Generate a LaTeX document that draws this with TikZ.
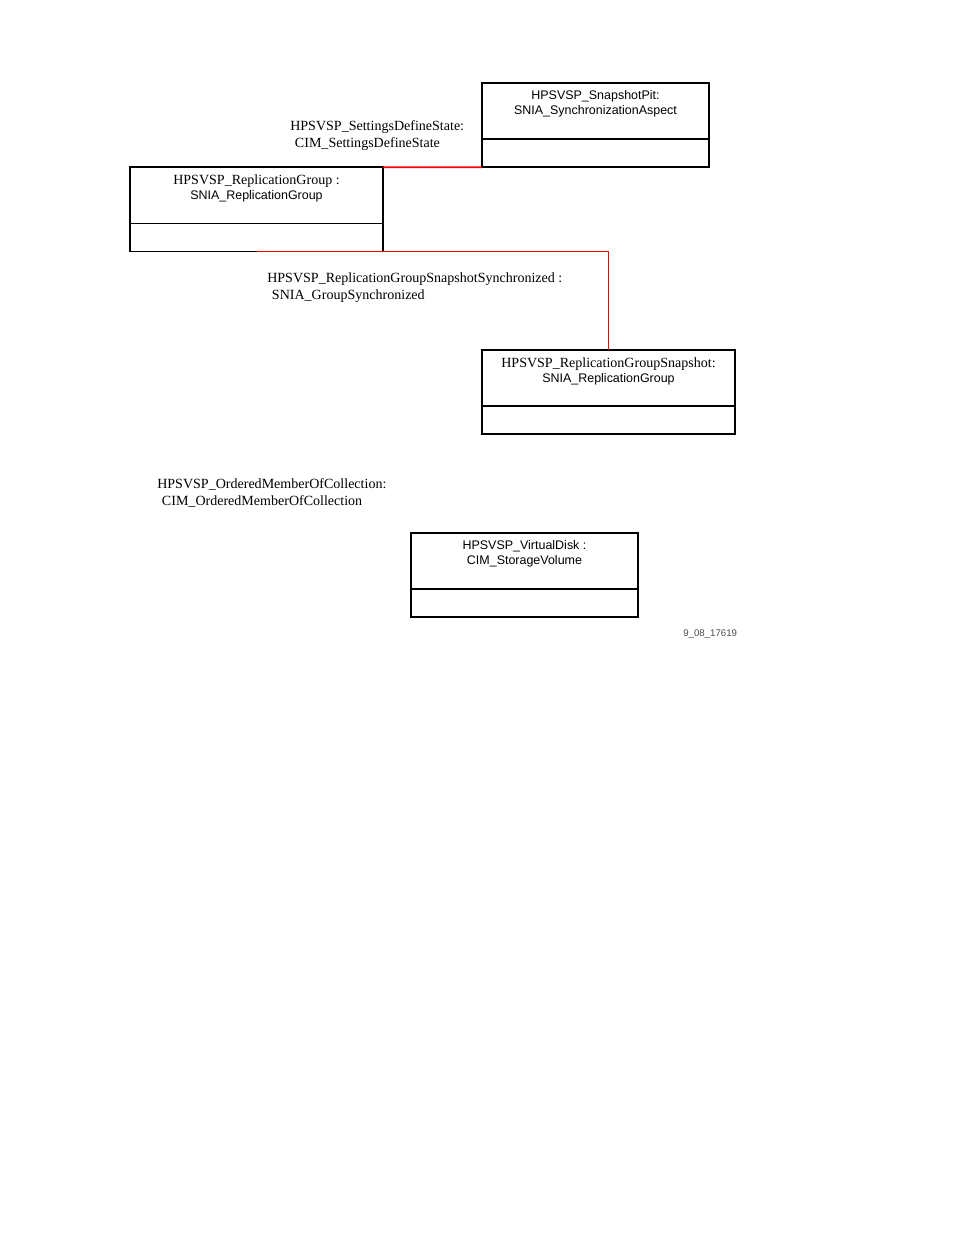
\documentclass[tikz,border=0pt]{standalone}
\usepackage{fontspec}
\setmainfont{Liberation Serif}
\setsansfont{Liberation Sans}
\usepackage{tikz}
\usetikzlibrary{positioning}

% serif / sans faces used in the class boxes
\newcommand{\serifname}[1]{{\rmfamily\fontsize{9}{9.6}\selectfont #1}}
\newcommand{\sansname}[1]{{\sffamily\fontsize{8}{9.6}\selectfont #1}}

\begin{document}
\begin{tikzpicture}[x=0.6415pt, y=-0.6415pt,
        classbox/.style={draw, line width=1.1pt, minimum width=#1*0.6415pt, minimum height=54pt, anchor=north west, inner sep=0pt, outer sep=0pt},
        boxtitle/.style={anchor=north, align=center, inner sep=0pt, yshift=-4.8pt, font=\fontsize{8}{9.6}\selectfont},
        assoclabel/.style={anchor=north west, align=left, inner sep=0pt, font=\rmfamily\fontsize{9}{11}\selectfont},
        assoc/.style={draw=red, line width=1.1pt}]
    \useasboundingbox (0,0) rectangle (954,1235);

    % classes
    \node[classbox=227] (pit) at (482,83) {};
    \node[boxtitle] (pittext) at (pit.north) {\sansname{HPSVSP\_SnapshotPit:}\\ \sansname{SNIA\_SynchronizationAspect}};
    \node[classbox=253] (rg) at (130,167.2) {};
    \node[boxtitle] (rgtext) at (rg.north) {\serifname{HPSVSP\_ReplicationGroup :}\\ \sansname{SNIA\_ReplicationGroup}};
    \node[classbox=253] (rgs) at (482,350) {};
    \node[boxtitle] (rgstext) at (rgs.north) {\serifname{HPSVSP\_ReplicationGroupSnapshot:}\\ \sansname{SNIA\_ReplicationGroup}};
    \node[classbox=227] (vd) at (411,533) {};
    \node[boxtitle] (vdtext) at (vd.north) {\sansname{HPSVSP\_VirtualDisk :}\\ \sansname{CIM\_StorageVolume}};

    % attribute compartments
    \foreach \b in {pit,rg,rgs,vd} {
        \draw[line width=1.1pt] ([yshift=17.96pt]\b.south west) -- ([yshift=17.96pt]\b.south east);
    }

    % associations
    \draw[assoc] (rg.north east) -- (pit.south west);
    \draw[assoc] (rg.south) -- (rg.south east) -| (rgs.north);

    \node[assoclabel] (sdslabel) at (290,120) {HPSVSP\_SettingsDefineState:\\\hspace{3pt}CIM\_SettingsDefineState};
    \node[assoclabel] (gslabel) at (267,272) {HPSVSP\_ReplicationGroupSnapshotSynchronized :\\\hspace{3pt}SNIA\_GroupSynchronized};
    \node[assoclabel] (omlabel) at (157,478) {HPSVSP\_OrderedMemberOfCollection:\\\hspace{3pt}CIM\_OrderedMemberOfCollection};

    \node[anchor=west, inner sep=0pt, text=black!70, font=\sffamily\fontsize{6.2}{7}\selectfont] (figid) at (683,634) {9\_08\_17619};
\end{tikzpicture}
\end{document}
